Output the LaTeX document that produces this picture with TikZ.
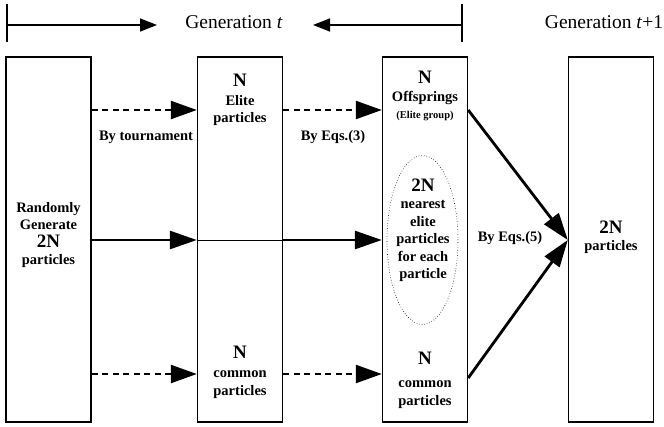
\documentclass[tikz,border=0pt]{standalone}
\usepackage{fontspec}
\setmainfont{Liberation Serif}
\usetikzlibrary{arrows.meta,shapes.geometric}

\newcommand{\bigcount}[1]{{\fontsize{19}{19}\selectfont #1}}

\begin{document}
\begin{tikzpicture}[x=1pt,y=-1pt,
    box/.style={draw,line width=1.4pt,minimum width=85pt,minimum height=365pt,inner sep=0pt},
    txt/.style={font=\fontsize{14.5}{17.5}\selectfont\bfseries,align=center,inner sep=0pt},
    gen/.style={font=\fontsize{19.5}{20}\selectfont,inner sep=0pt},
    toparrow/.style={line width=1.5pt,-{Triangle[length=17pt,width=13pt]}},
    dasharrow/.style={line width=2.4pt,dash pattern=on 6pt off 4.5pt,-{Triangle[length=26pt,width=18pt]}},
    fullarrow/.style={line width=2.8pt,-{Triangle[length=27pt,width=18pt]}}]
    \useasboundingbox (0,0) rectangle (664,426);

    % generation bar
    \coordinate (tl) at (7,25);
    \coordinate (tla) at (157,25);
    \coordinate (tr) at (462,25);
    \coordinate (tra) at (313,25);
    \node[gen] at (234,22) (gent) {Generation \textit{t}};
    \node[gen] at (604,22) (gennext) {Generation \textit{t}+1};
    \draw[line width=1.5pt] (7,4) -- (7,42);
    \draw[line width=1.5pt] (462,4) -- (462,42);
    \draw[toparrow] (tl) -- (tla);
    \draw[toparrow] (tr) -- (tra);

    % the four columns
    \node[box] at (48.5,239.5) (init) {};
    \node[box] at (240,239.5) (sel) {};
    \node[box] at (425,239.5) (upd) {};
    \node[box] at (611,239.5) (next) {};
    \node[draw,ellipse,dotted,line width=0.6pt,minimum width=71pt,minimum height=169pt] at (422.5,240) (near) {};

    % rows of the arrows
    \coordinate (r1) at (0,110);
    \coordinate (r2) at (0,240);
    \coordinate (r3) at (0,374);

    % texts
    \node[txt] at (48.5,235) (initt) {Randomly\\Generate\\\bigcount{2N}\\particles};
    \node[txt] at (240,100) (elite) {\bigcount{N}\\[1pt]Elite\\particles};
    \node[txt] at (240,372) (common) {\bigcount{N}\\[2pt]common\\particles};
    \node[txt] at (425,96) (offs) {\bigcount{N}\\Offsprings\\{\fontsize{10.5}{12}\selectfont(Elite group)}};
    \node[txt] at (423,230) (neart) {\bigcount{2N}\\nearest\\elite\\particles\\for each\\particle};
    \node[txt] at (425,380) (commonu) {\bigcount{N}\\[6pt]common\\particles};
    \node[txt] at (611,237) (nextt) {\bigcount{2N}\\particles};

    \node[txt] at (146,137) (tour) {By tournament};
    \node[txt] at (333,137) (eq3) {By Eqs.(3)};
    \node[txt] at (510,238) (eq5) {By Eqs.(5)};

    % connectors
    \draw[dasharrow] (init.east |- r1) -- (sel.west |- r1);
    \draw[dasharrow] (sel.east |- r1) -- (upd.west |- r1);
    \draw[fullarrow] (init.east |- r2) -- (sel.west |- r2);
    \draw[line width=0.8pt] (sel.west |- r2) -- (sel.east |- r2);
    \draw[fullarrow] (sel.east |- r2) -- (upd.west |- r2);
    \draw[dasharrow] (init.east |- r3) -- (sel.west |- r3);
    \draw[dasharrow] (sel.east |- r3) -- (upd.west |- r3);
    \draw[fullarrow] (upd.east |- r1) -- (next.west |- r2);
    \draw[fullarrow] ([yshift=-4pt]upd.east |- r3) -- (next.west |- r2);
\end{tikzpicture}
\end{document}
